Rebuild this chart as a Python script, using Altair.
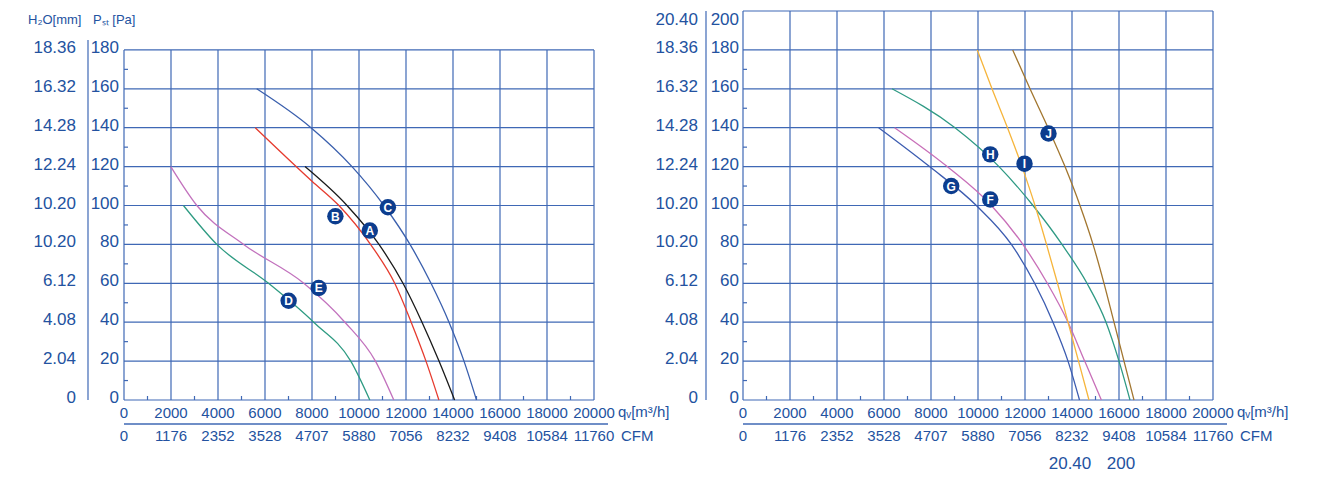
import altair as alt
import pandas as pd

FONT = "Liberation Sans"
TEXT = "#2352a0"
GRID = "#3f68b5"
BADGE = "#0c3d8e"

# ---------------- axis values ----------------
pa_left = [0, 20, 40, 60, 80, 100, 120, 140, 160, 180]
h2o_left = ["0", "2.04", "4.08", "6.12", "10.20", "10.20", "12.24", "14.28", "16.32", "18.36"]
pa_right = [0, 20, 40, 60, 80, 100, 120, 140, 160, 180, 200]
h2o_right = ["0", "2.04", "4.08", "6.12", "10.20", "10.20", "12.24", "14.28", "16.32", "18.36", "20.40"]
qv_ticks = [0, 2000, 4000, 6000, 8000, 10000, 12000, 14000, 16000, 18000, 20000]
cfm_labels = ["0", "1176", "2352", "3528", "4707", "5880", "7056", "8232", "9408", "10584", "11760"]
minor_q = [1000, 3000, 5000, 7000, 9000, 11000, 13000, 15000, 17000, 19000]
minor_p = [10, 30, 50, 70, 90, 110, 130, 150, 170]

# ---------------- curves (q_v [m3/h], p_st [Pa]) ----------------
A_q = [7702, 9489, 10851, 11872, 12681, 13404, 14068]
A_p = [120, 100, 80, 60, 40, 20, 0]
B_q = [5585, 8000, 9146, 10490, 11520, 12220, 12850, 13400]
B_p = [140, 112.5, 100, 80, 60, 40, 20, 0]
C_q = [5647, 7957, 9702, 11064, 12170, 13064, 13830, 14468, 15000]
C_p = [160, 140, 120, 100, 80, 60, 40, 20, 0]
D_q = [2530, 3950, 6150, 8070, 9650, 10460]
D_p = [100, 80, 60, 40, 20, 0]
E_q = [1990, 3100, 5090, 7650, 9400, 10700, 11480]
E_p = [120, 100, 80, 60, 40, 20, 0]

F_q = [6450, 8690, 10570, 11910, 12950, 13830, 14540, 15250]
F_p = [140, 120, 100, 80, 60, 40, 20, 0]
G_q = [5770, 7940, 9930, 11420, 12410, 13190, 13830, 14320]
G_p = [140, 120, 100, 80, 60, 40, 20, 0]
H_q = [6340, 9021, 10894, 12340, 13574, 14638, 15447, 16000, 16468]
H_p = [160, 140, 120, 100, 80, 60, 40, 20, 0]
I_q = [9970, 10596, 11255, 11872, 12426, 12915, 13383, 13830, 14277, 14723]
I_p = [180, 160, 140, 120, 100, 80, 60, 40, 20, 0]
J_q = [11477, 12213, 12979, 13702, 14340, 14894, 15362, 15787, 16213, 16638]
J_p = [180, 160, 140, 120, 100, 80, 60, 40, 20, 0]

curve_colors = {"A": "#1a1a1a", "B": "#e63b2e", "C": "#3a5fad", "D": "#2e9b82",
                "E": "#c272bd", "F": "#c86fb8", "G": "#3c5cb0", "H": "#2f9a84",
                "I": "#f6b53c", "J": "#a2762f"}

# badge label positions (q, p)
left_badges = {"A": (10460, 87.1), "B": (8995, 94.5), "C": (11230, 99.1),
               "D": (7006, 51.0), "E": (8285, 57.6)}
right_badges = {"F": (10520, 103.1), "G": (8860, 110.0), "H": (10520, 126.3),
                "I": (11980, 121.5), "J": (13000, 137.0)}

W, H = 470, 389
xs = alt.Scale(domain=[0, 20000], nice=False, zero=False)
ys = alt.Scale(domain=[0, 200], nice=False, zero=False)


def curves_df(names, qs, ps):
    rows = []
    for n, q, p in zip(names, qs, ps):
        for a, b in zip(q, p):
            rows.append({"curve": n, "q": a, "p": b, "col": curve_colors[n]})
    return pd.DataFrame(rows)


def panel(cdf, badges, pa_vals, h2o_labels, top, pa_x, h2o_x, sep_x, sep_top,
          header, stray):
    vdf = pd.DataFrame({"q": qv_ticks, "y0": 0, "y1": top})
    hdf = pd.DataFrame({"p": pa_vals, "x0": 0, "x1": 20000})
    layers = []
    layers.append(alt.Chart(vdf).mark_rule(color=GRID, strokeWidth=1.2).encode(
        x=alt.X("q:Q", scale=xs, axis=None),
        y=alt.Y("y0:Q", scale=ys, axis=None), y2="y1:Q"))
    layers.append(alt.Chart(hdf).mark_rule(color=GRID, strokeWidth=1.2).encode(
        y=alt.Y("p:Q", scale=ys, axis=None),
        x=alt.X("x0:Q", scale=xs, axis=None), x2="x1:Q"))
    layers.append(alt.Chart(pd.DataFrame({"q": minor_q})).mark_rule(
        color=GRID, strokeWidth=1.2).encode(
        x=alt.X("q:Q", scale=xs, axis=None), y=alt.value(H - 4), y2=alt.value(H)))
    layers.append(alt.Chart(pd.DataFrame({"p": minor_p})).mark_rule(
        color=GRID, strokeWidth=1.2).encode(
        y=alt.Y("p:Q", scale=ys, axis=None), x=alt.value(0), x2=alt.value(4)))
    # separator between the two value columns
    layers.append(alt.Chart(pd.DataFrame({"a": [0]})).mark_rule(
        color=GRID, strokeWidth=1.2).encode(
        x=alt.value(sep_x), y=alt.value(sep_top), y2=alt.value(H)))
    # curves
    layers.append(alt.Chart(cdf).mark_line(interpolate="monotone", strokeWidth=1.3).encode(
        x=alt.X("q:Q", scale=xs, axis=None),
        y=alt.Y("p:Q", scale=ys, axis=None),
        color=alt.Color("col:N", scale=None),
        detail="curve:N", order="q:Q"))
    bdf = pd.DataFrame({"name": list(badges.keys()),
                        "q": [v[0] for v in badges.values()],
                        "p": [v[1] for v in badges.values()]})
    layers.append(alt.Chart(bdf).mark_circle(size=270, color=BADGE, opacity=1).encode(
        x=alt.X("q:Q", scale=xs, axis=None), y=alt.Y("p:Q", scale=ys, axis=None)))
    layers.append(alt.Chart(bdf).mark_text(color="white", fontSize=12, fontWeight="bold",
                                           font=FONT, baseline="middle", dy=0.5).encode(
        x=alt.X("q:Q", scale=xs, axis=None), y=alt.Y("p:Q", scale=ys, axis=None),
        text="name:N"))
    # y-axis label columns
    ldf = pd.DataFrame({"p": pa_vals, "pa": [str(v) for v in pa_vals], "h2o": h2o_labels})
    main = ldf[ldf["p"] <= 180]
    topl = ldf[ldf["p"] > 180]
    for d, dy in ((main, -2), (topl, 8.5)):
        if len(d) == 0:
            continue
        layers.append(alt.Chart(d).mark_text(align="right", baseline="middle", fontSize=17,
                                             font=FONT, color=TEXT, dy=dy).encode(
            x=alt.value(pa_x), y=alt.Y("p:Q", scale=ys, axis=None), text="pa:N"))
        layers.append(alt.Chart(d).mark_text(align="right", baseline="middle", fontSize=17,
                                             font=FONT, color=TEXT, dy=dy).encode(
            x=alt.value(h2o_x), y=alt.Y("p:Q", scale=ys, axis=None), text="h2o:N"))
    # x-axis label rows
    xdf = pd.DataFrame({"q": qv_ticks, "qv": [str(v) for v in qv_ticks], "cfm": cfm_labels})
    layers.append(alt.Chart(xdf).mark_text(align="center", baseline="middle", fontSize=15,
                                           font=FONT, color=TEXT).encode(
        x=alt.X("q:Q", scale=xs, axis=None), y=alt.value(H + 12.5), text="qv:N"))
    layers.append(alt.Chart(xdf).mark_text(align="center", baseline="middle", fontSize=15,
                                           font=FONT, color=TEXT).encode(
        x=alt.X("q:Q", scale=xs, axis=None), y=alt.value(H + 35.5), text="cfm:N"))
    layers.append(alt.Chart(pd.DataFrame({"a": [0]})).mark_rule(
        color=GRID, strokeWidth=1.4).encode(
        x=alt.value(0), x2=alt.value(484), y=alt.value(H + 24)))
    layers.append(alt.Chart(pd.DataFrame({"t": ["qᵥ[m³/h]"]})).mark_text(
        align="left", baseline="middle", fontSize=15, font=FONT, color=TEXT).encode(
        x=alt.value(W + 24), y=alt.value(H + 12), text="t:N"))
    layers.append(alt.Chart(pd.DataFrame({"t": ["CFM"]})).mark_text(
        align="left", baseline="middle", fontSize=15, font=FONT, color=TEXT).encode(
        x=alt.value(W + 27), y=alt.value(H + 35.5), text="t:N"))
    if header:
        layers.append(alt.Chart(pd.DataFrame({"t": ["H₂O[mm]"]})).mark_text(
            align="left", baseline="middle", fontSize=13, font=FONT, color=TEXT).encode(
            x=alt.value(-96), y=alt.value(9), text="t:N"))
        layers.append(alt.Chart(pd.DataFrame({"t": ["Pₛₜ [Pa]"]})).mark_text(
            align="left", baseline="middle", fontSize=13, font=FONT, color=TEXT).encode(
            x=alt.value(-31), y=alt.value(9), text="t:N"))
    if stray:
        layers.append(alt.Chart(pd.DataFrame({"t": ["20.40"]})).mark_text(
            align="center", baseline="middle", fontSize=17, font=FONT, color=TEXT).encode(
            x=alt.value(327), y=alt.value(H + 64), text="t:N"))
        layers.append(alt.Chart(pd.DataFrame({"t": ["200"]})).mark_text(
            align="center", baseline="middle", fontSize=17, font=FONT, color=TEXT).encode(
            x=alt.value(378), y=alt.value(H + 64), text="t:N"))
    return alt.layer(*layers).properties(width=W, height=H)


left_cdf = curves_df(["A", "B", "C", "D", "E"], [A_q, B_q, C_q, D_q, E_q],
                     [A_p, B_p, C_p, D_p, E_p])
right_cdf = curves_df(["F", "G", "H", "I", "J"], [F_q, G_q, H_q, I_q, J_q],
                      [F_p, G_p, H_p, I_p, J_p])

left = panel(left_cdf, left_badges, pa_left, h2o_left, 180, -5, -48, -36, 29, True, False)
right = panel(right_cdf, right_badges, pa_right, h2o_right, 200, -4, -45, -37, 0, False, True)

chart = alt.hconcat(left, right, spacing=149, bounds="flush").properties(
    padding={"left": 20, "top": 2, "right": 5, "bottom": 0}
).configure_view(stroke=None)

chart.save("out.html", embed_options={"renderer": "svg", "actions": False})
